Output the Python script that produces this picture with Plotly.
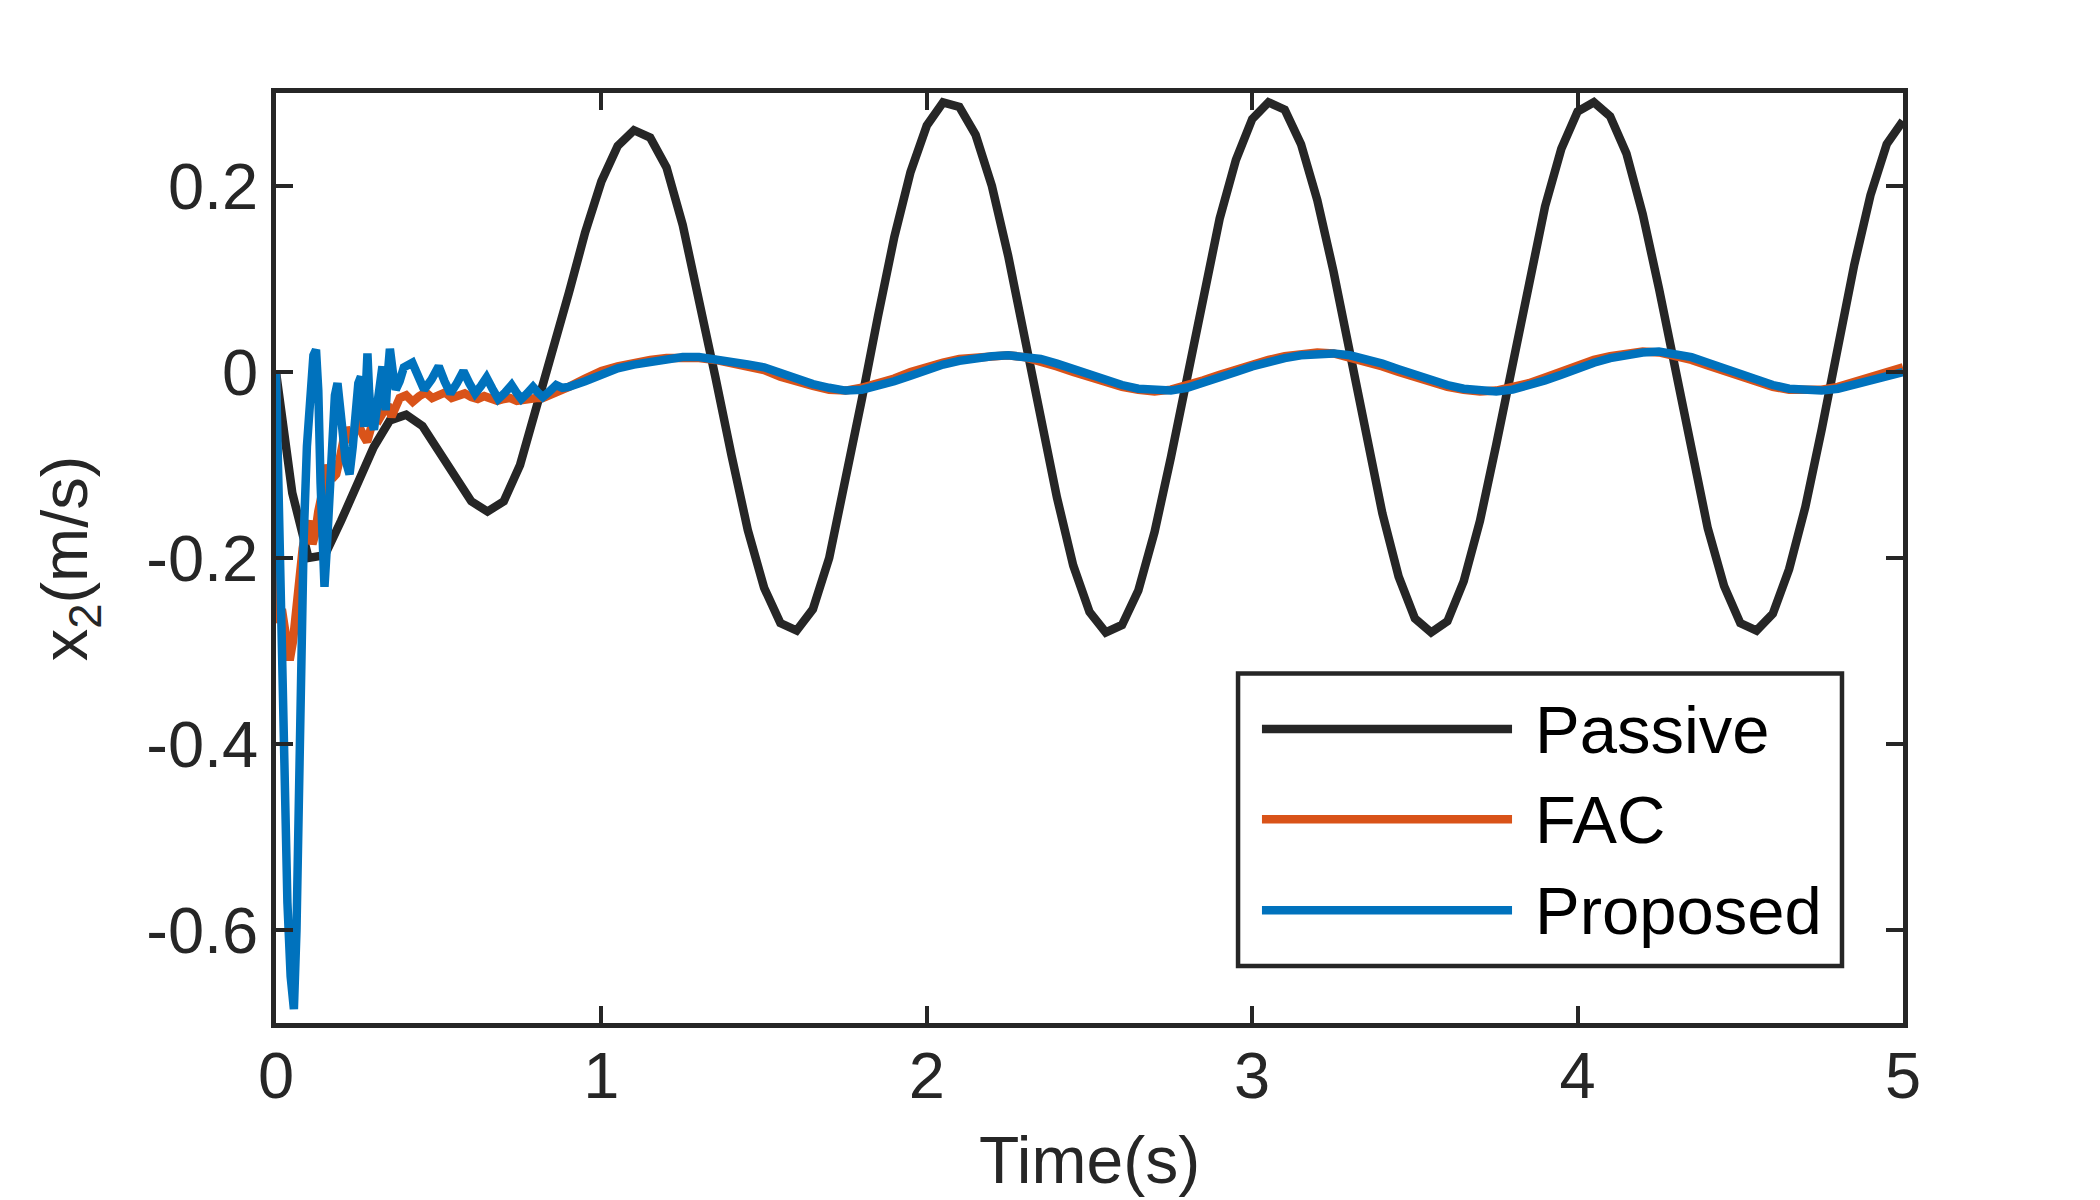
import plotly.graph_objects as go

# ---------------- data ----------------
t_grid = [0.00, 0.05, 0.10, 0.15, 0.20, 0.25, 0.30, 0.35, 0.40, 0.45,
          0.50, 0.55, 0.60, 0.65, 0.70, 0.75, 0.80, 0.85, 0.90, 0.95,
          1.00, 1.05, 1.10, 1.15, 1.20, 1.25, 1.30, 1.35, 1.40, 1.45,
          1.50, 1.55, 1.60, 1.65, 1.70, 1.75, 1.80, 1.85, 1.90, 1.95,
          2.00, 2.05, 2.10, 2.15, 2.20, 2.25, 2.30, 2.35, 2.40, 2.45,
          2.50, 2.55, 2.60, 2.65, 2.70, 2.75, 2.80, 2.85, 2.90, 2.95,
          3.00, 3.05, 3.10, 3.15, 3.20, 3.25, 3.30, 3.35, 3.40, 3.45,
          3.50, 3.55, 3.60, 3.65, 3.70, 3.75, 3.80, 3.85, 3.90, 3.95,
          4.00, 4.05, 4.10, 4.15, 4.20, 4.25, 4.30, 4.35, 4.40, 4.45,
          4.50, 4.55, 4.60, 4.65, 4.70, 4.75, 4.80, 4.85, 4.90, 4.95,
          5.00]

x2_passive = [0.000, -0.130, -0.200, -0.197, -0.160, -0.118, -0.081, -0.052, -0.046, -0.058,
              -0.085, -0.113, -0.139, -0.150, -0.139, -0.100, -0.040, 0.020, 0.085, 0.150,
              0.205, 0.243, 0.260, 0.252, 0.220, 0.158, 0.080, -0.005, -0.090, -0.170,
              -0.232, -0.270, -0.278, -0.255, -0.200, -0.120, -0.030, 0.060, 0.145, 0.215,
              0.265, 0.290, 0.285, 0.255, 0.200, 0.125, 0.040, -0.050, -0.135, -0.208,
              -0.258, -0.280, -0.272, -0.235, -0.172, -0.092, -0.005, 0.085, 0.165, 0.228,
              0.272, 0.290, 0.282, 0.245, 0.185, 0.108, 0.020, -0.070, -0.152, -0.220,
              -0.265, -0.280, -0.268, -0.225, -0.160, -0.078, 0.010, 0.100, 0.178, 0.240,
              0.280, 0.290, 0.275, 0.235, 0.170, 0.090, 0.002, -0.088, -0.168, -0.230,
              -0.270, -0.278, -0.260, -0.212, -0.145, -0.062, 0.027, 0.115, 0.190, 0.245,
              0.270]

# FAC: dense samples during the transient, then the regular grid from 0.90 s
t_fac_transient = [0.000, 0.004, 0.010, 0.018, 0.028, 0.042, 0.052, 0.062, 0.072, 0.082,
                   0.092, 0.102, 0.112, 0.120, 0.130, 0.140, 0.150, 0.160, 0.172, 0.185,
                   0.195, 0.205, 0.215, 0.228, 0.240, 0.255, 0.268, 0.280, 0.292, 0.305,
                   0.318, 0.330, 0.343, 0.355, 0.368, 0.380, 0.400, 0.420, 0.440, 0.460,
                   0.480, 0.500, 0.520, 0.540, 0.560, 0.580, 0.600, 0.620, 0.640, 0.660,
                   0.680, 0.700, 0.720, 0.740, 0.760, 0.780, 0.800, 0.820, 0.840, 0.860,
                   0.880]
x2_fac_transient = [0.000, -0.150, -0.270, -0.255, -0.280, -0.310, -0.290, -0.250, -0.220, -0.190,
                    -0.170, -0.160, -0.185, -0.175, -0.150, -0.130, -0.110, -0.100, -0.115, -0.110,
                    -0.095, -0.075, -0.060, -0.070, -0.065, -0.058, -0.068, -0.075, -0.060, -0.045,
                    -0.050, -0.040, -0.035, -0.048, -0.035, -0.028, -0.025, -0.032, -0.026, -0.022,
                    -0.028, -0.024, -0.022, -0.028, -0.026, -0.023, -0.027, -0.029, -0.026, -0.028,
                    -0.031, -0.029, -0.028, -0.031, -0.030, -0.027, -0.028, -0.028, -0.025, -0.022,
                    -0.020]
x2_fac_steady = [-0.016, -0.007, 0.001, 0.006, 0.010, 0.013, 0.015, 0.016, 0.015, 0.013,
                 0.010, 0.006, 0.002, -0.005, -0.011, -0.015, -0.019, -0.020, -0.017, -0.013,
                 -0.007, 0.000, 0.006, 0.010, 0.014, 0.016, 0.018, 0.018, 0.016, 0.012,
                 0.006, 0.000, -0.006, -0.012, -0.016, -0.019, -0.021, -0.019, -0.015, -0.009,
                 -0.003, 0.003, 0.009, 0.013, 0.017, 0.019, 0.021, 0.020, 0.016, 0.012,
                 0.006, 0.000, -0.006, -0.012, -0.016, -0.019, -0.021, -0.020, -0.017, -0.012,
                 -0.006, 0.001, 0.007, 0.013, 0.017, 0.020, 0.022, 0.021, 0.018, 0.013,
                 0.007, 0.001, -0.006, -0.012, -0.016, -0.019, -0.020, -0.019, -0.016, -0.011,
                 -0.006, -0.001, 0.005]

t_prop_transient = [0.000, 0.008, 0.016, 0.025, 0.035, 0.045, 0.055, 0.063, 0.070, 0.077,
                    0.085, 0.095, 0.105, 0.115, 0.123, 0.130, 0.137, 0.143, 0.149, 0.156,
                    0.165, 0.173, 0.181, 0.189, 0.196, 0.205, 0.214, 0.226, 0.236, 0.245,
                    0.253, 0.261, 0.266, 0.271, 0.276, 0.281, 0.286, 0.292, 0.301, 0.309,
                    0.318, 0.327, 0.332, 0.337, 0.343, 0.350, 0.359, 0.368, 0.380, 0.393,
                    0.419, 0.437, 0.455, 0.478, 0.500, 0.518, 0.536, 0.556, 0.576, 0.594,
                    0.612, 0.630, 0.647, 0.665, 0.683, 0.704, 0.724, 0.739, 0.754, 0.772,
                    0.790, 0.805, 0.820, 0.840, 0.861, 0.880]
x2_prop_transient = [0.000, -0.150, -0.300, -0.450, -0.570, -0.650, -0.685, -0.600, -0.450, -0.300,
                     -0.180, -0.080, -0.010, 0.018, 0.024, -0.020, -0.120, -0.200, -0.231, -0.190,
                     -0.120, -0.060, -0.025, -0.012, -0.030, -0.065, -0.095, -0.110, -0.080, -0.040,
                     -0.012, -0.005, -0.040, -0.059, -0.020, 0.020, -0.020, -0.050, -0.062, -0.035,
                     -0.005, 0.006, -0.020, -0.041, -0.005, 0.025, 0.000, -0.019, -0.010, 0.005,
                     0.010, -0.005, -0.019, -0.008, 0.006, -0.010, -0.023, -0.012, 0.001, -0.012,
                     -0.023, -0.015, -0.006, -0.018, -0.029, -0.022, -0.014, -0.022, -0.029, -0.023,
                     -0.016, -0.022, -0.027, -0.021, -0.014, -0.017]
x2_prop_steady = [-0.016, -0.010, -0.002, 0.004, 0.008, 0.011, 0.014, 0.016, 0.016, 0.014,
                  0.011, 0.008, 0.005, -0.001, -0.008, -0.013, -0.017, -0.020, -0.019, -0.015,
                  -0.010, -0.004, 0.003, 0.008, 0.012, 0.015, 0.017, 0.018, 0.017, 0.014,
                  0.009, 0.003, -0.003, -0.009, -0.014, -0.018, -0.020, -0.020, -0.017, -0.012,
                  -0.006, 0.000, 0.006, 0.011, 0.015, 0.018, 0.020, 0.020, 0.018, 0.014,
                  0.009, 0.003, -0.003, -0.009, -0.014, -0.018, -0.020, -0.021, -0.019, -0.015,
                  -0.009, -0.003, 0.004, 0.010, 0.015, 0.019, 0.021, 0.022, 0.020, 0.016,
                  0.010, 0.004, -0.003, -0.009, -0.014, -0.018, -0.020, -0.020, -0.018, -0.014,
                  -0.009, -0.004, 0.000]

series_names = ["Passive", "FAC", "Proposed"]
series_colors = ["#262626", "#D95319", "#0072BD"]

x_ticks = [0, 1, 2, 3, 4, 5]
x_tick_labels = ["0", "1", "2", "3", "4", "5"]
y_ticks = [-0.6, -0.4, -0.2, 0, 0.2]
y_tick_labels = ["-0.6", "-0.4", "-0.2", "0", "0.2"]

t_fac = t_fac_transient + t_grid[18:]
x2_fac = x2_fac_transient + x2_fac_steady
t_prop = t_prop_transient + t_grid[18:]
x2_prop = x2_prop_transient + x2_prop_steady

# ---------------- figure ----------------
FONT = "Liberation Sans, Arial, Helvetica, sans-serif"
AX = "#262626"
LW = 8.5

fig = go.Figure()
for name, xs, ys, col in zip(series_names,
                             [t_grid, t_fac, t_prop],
                             [x2_passive, x2_fac, x2_prop],
                             series_colors):
    fig.add_trace(go.Scatter(x=xs, y=ys, mode="lines", name=name,
                             line=dict(color=col, width=LW), showlegend=False))

fig.update_layout(
    width=2100, height=1200,
    margin=dict(l=268, r=205, t=85, b=185),
    plot_bgcolor="white", paper_bgcolor="white",
    font=dict(family=FONT, size=65, color=AX),
    showlegend=False,
)
axis_common = dict(ticks="inside", ticklen=17, tickwidth=4, tickcolor=AX,
                   showline=True, linewidth=4.5, linecolor=AX, mirror="ticks",
                   showgrid=False, zeroline=False,
                   tickfont=dict(family=FONT, size=65, color=AX))
fig.update_xaxes(range=[0, 5], tickvals=x_ticks, ticktext=x_tick_labels,
                 ticklabelstandoff=-8, **axis_common)
fig.update_yaxes(range=[-0.7, 0.3], tickvals=y_ticks, ticktext=y_tick_labels, **axis_common)

# axis titles
fig.add_annotation(text="Time(s)", xref="paper", yref="paper", x=0.5, y=-0.147,
                   xanchor="center", yanchor="middle", showarrow=False,
                   font=dict(family=FONT, size=66, color=AX))
fig.add_annotation(text="x<sub>2</sub>(m/s)", xref="paper", yref="paper", x=-0.127, y=0.5,
                   xanchor="center", yanchor="middle", textangle=-90, showarrow=False,
                   font=dict(family=FONT, size=65, color=AX))

# legend box (MATLAB-style long line samples)
fig.add_shape(type="rect", xref="paper", yref="paper", x0=0.5913, x1=0.9625, y0=0.0613, y1=0.3758,
              line=dict(color=AX, width=4.5), fillcolor="white", layer="above")
legend_y = [0.3161, 0.2190, 0.1212]
for name, col, yy in zip(series_names, series_colors, legend_y):
    fig.add_shape(type="line", xref="paper", yref="paper", x0=0.6060, x1=0.7597, y0=yy, y1=yy,
                  line=dict(color=col, width=LW), layer="above")
    fig.add_annotation(text=name, xref="paper", yref="paper", x=0.7726, y=yy,
                       xanchor="left", yanchor="middle", showarrow=False,
                       font=dict(family=FONT, size=67, color="#000000"))

fig.write_html("out.html")
